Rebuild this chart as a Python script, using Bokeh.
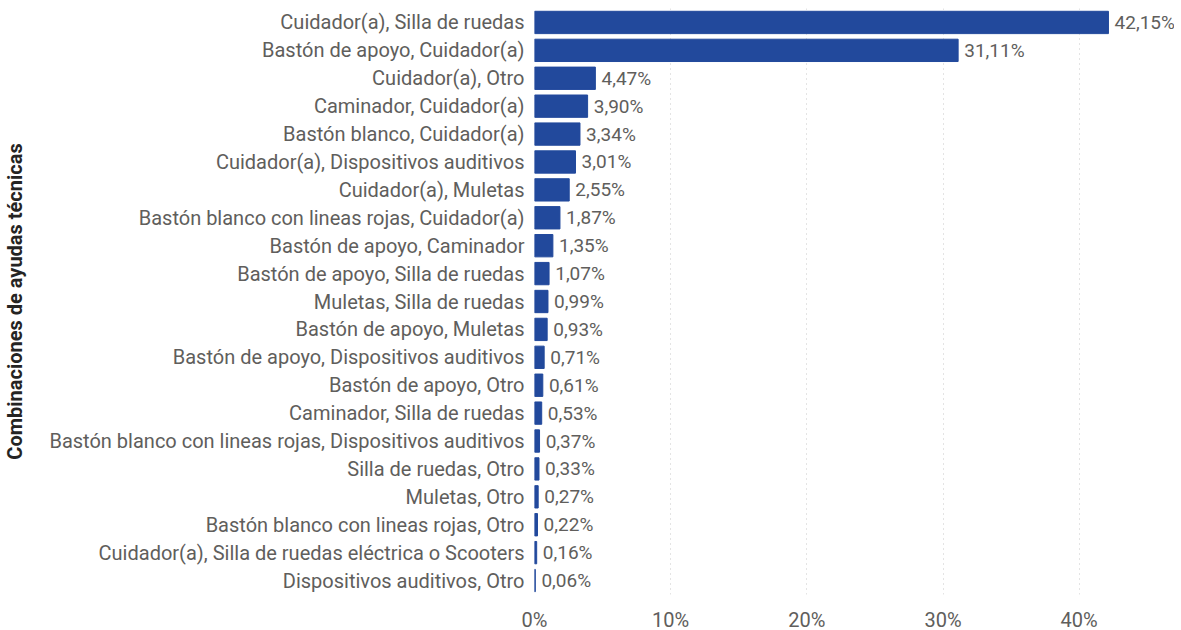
from bokeh.plotting import figure
from bokeh.models import FactorRange, Range1d, ColumnDataSource, FixedTicker, CustomJSTickFormatter
from bokeh.core.properties import value
from bokeh.embed import file_html
from bokeh.resources import INLINE

categories = [
    "Cuidador(a), Silla de ruedas",
    "Bastón de apoyo, Cuidador(a)",
    "Cuidador(a), Otro",
    "Caminador, Cuidador(a)",
    "Bastón blanco, Cuidador(a)",
    "Cuidador(a), Dispositivos auditivos",
    "Cuidador(a), Muletas",
    "Bastón blanco con lineas rojas, Cuidador(a)",
    "Bastón de apoyo, Caminador",
    "Bastón de apoyo, Silla de ruedas",
    "Muletas, Silla de ruedas",
    "Bastón de apoyo, Muletas",
    "Bastón de apoyo, Dispositivos auditivos",
    "Bastón de apoyo, Otro",
    "Caminador, Silla de ruedas",
    "Bastón blanco con lineas rojas, Dispositivos auditivos",
    "Silla de ruedas, Otro",
    "Muletas, Otro",
    "Bastón blanco con lineas rojas, Otro",
    "Cuidador(a), Silla de ruedas eléctrica o Scooters",
    "Dispositivos auditivos, Otro",
]
values = [42.15, 31.11, 4.47, 3.90, 3.34, 3.01, 2.55, 1.87, 1.35, 1.07,
          0.99, 0.93, 0.71, 0.61, 0.53, 0.37, 0.33, 0.27, 0.22, 0.16, 0.06]
tick_values = [0, 10, 20, 30, 40]

FONT = "Roboto"
TXT = "#605E5C"
BAR = "#22499C"

labels = [f"{v:.2f}".replace(".", ",") + "%" for v in values]
src = ColumnDataSource(dict(cat=categories, val=values, lab=labels,
                            lx=[v + 0.45 for v in values]))

p = figure(frame_width=640, frame_height=586, output_backend="svg", toolbar_location=None,
           y_range=FactorRange(factors=categories[::-1], range_padding=0),
           x_range=Range1d(0, 47.0))
p.min_border_top = 8
p.min_border_right = 0
p.min_border_bottom = 0
p.outline_line_color = None
p.background_fill_color = "white"
p.border_fill_color = "white"

p.hbar(y="cat", right="val", left=0, height=0.8, source=src, color=BAR)
p.text(x="lx", y="cat", text="lab", source=src, text_font=value(FONT),
       text_font_size="19px", text_color=TXT, text_baseline="middle", text_align="left")

p.xaxis.ticker = FixedTicker(ticks=tick_values)
p.xaxis.formatter = CustomJSTickFormatter(code="return tick + '%';")
p.xaxis.axis_line_color = None
p.xaxis.major_tick_line_color = None
p.xaxis.minor_tick_line_color = None
p.xaxis.major_label_text_font = FONT
p.xaxis.major_label_text_font_size = "20px"
p.xaxis.major_label_text_color = TXT
p.xaxis.major_label_standoff = 7

p.yaxis.axis_line_color = None
p.yaxis.major_tick_line_color = None
p.yaxis.major_label_text_font = FONT
p.yaxis.major_label_text_font_size = "20px"
p.yaxis.major_label_text_color = TXT
p.yaxis.major_label_standoff = 4
p.yaxis.axis_label = "Combinaciones de ayudas técnicas"
p.yaxis.axis_label_text_font = FONT
p.yaxis.axis_label_text_font_style = "bold"
p.yaxis.axis_label_text_font_size = "20px"
p.yaxis.axis_label_text_color = "#252423"
p.yaxis.axis_label_standoff = 19

p.ygrid.grid_line_color = None
p.xgrid.ticker = FixedTicker(ticks=tick_values)
p.xgrid.grid_line_color = "#C8C8C8"
p.xgrid.grid_line_dash = "1 4"
p.xgrid.grid_line_width = 1

open("out.html", "w").write(file_html(p, INLINE))
